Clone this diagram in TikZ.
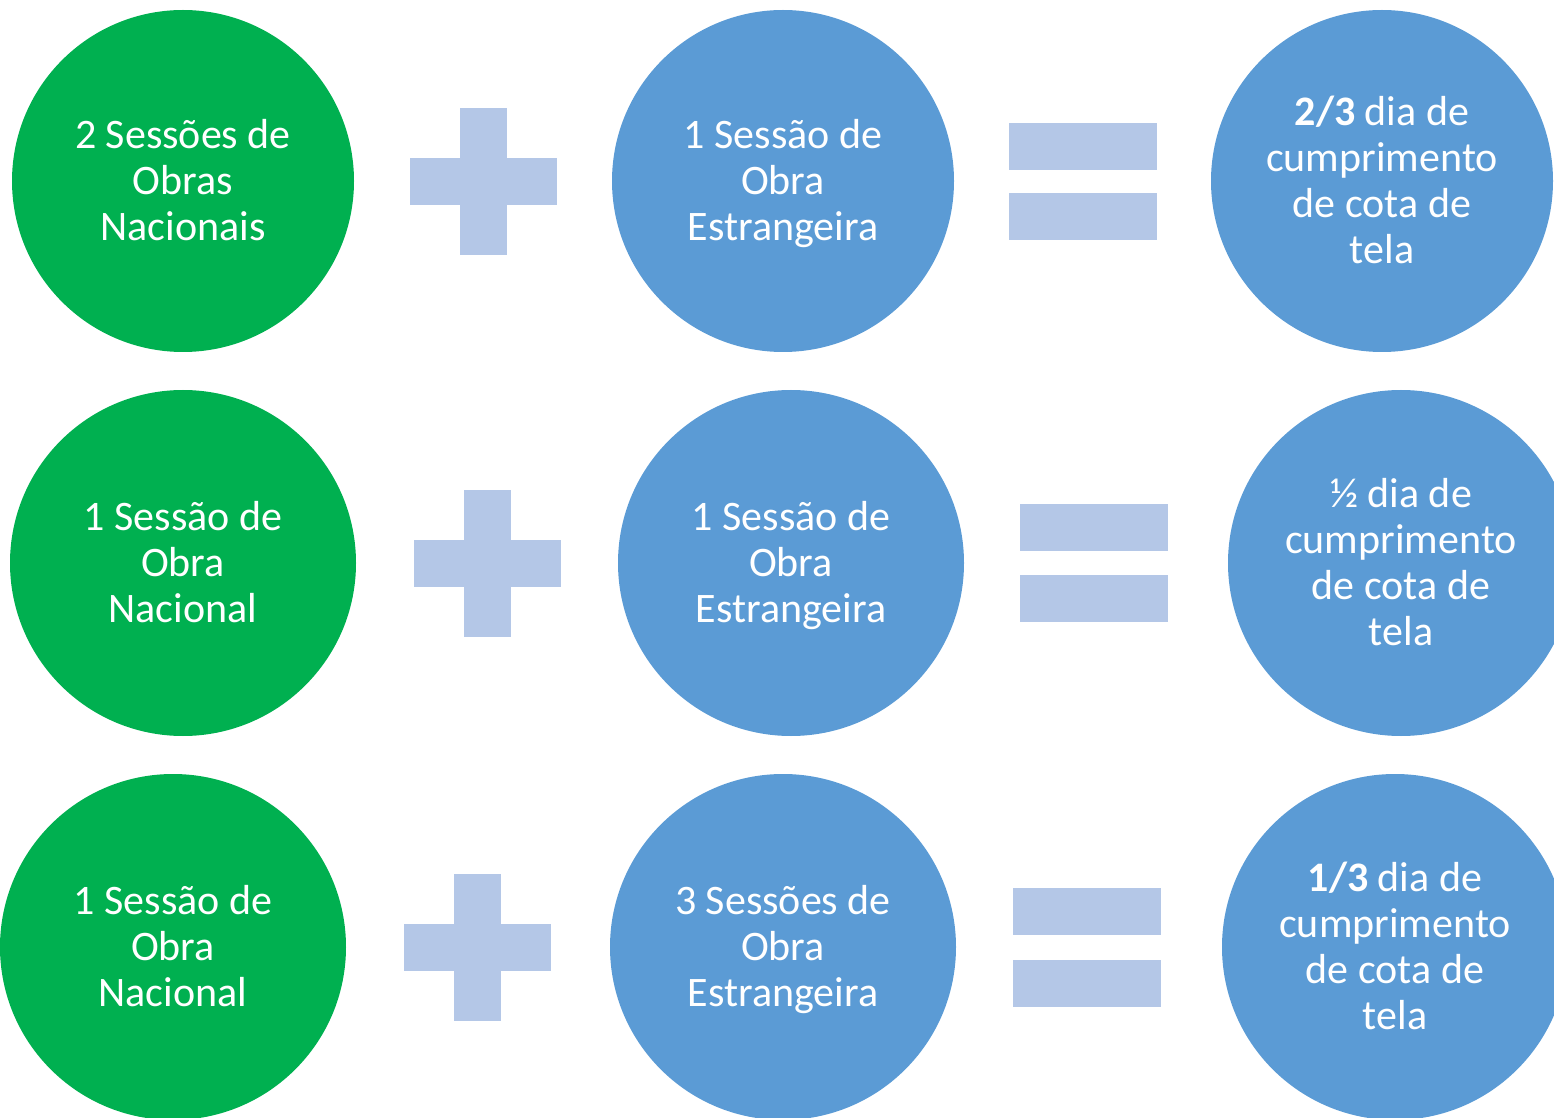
\documentclass[tikz,border=0pt]{standalone}
\usepackage{fontspec}
\setmainfont{Carlito}
\definecolor{nacgreen}{HTML}{00B050}
\definecolor{estblue}{HTML}{5B9BD5}
\definecolor{oplight}{HTML}{B4C7E7}
\newcommand{\ls}{\rule[-4.75pt]{0pt}{23pt}}
\tikzset{
  bubble/.style={circle, inner sep=0pt, text=white, align=center,
    font=\fontsize{21}{23}\selectfont},
  nac/.style={bubble, fill=nacgreen},
  est/.style={bubble, fill=estblue},
  opfill/.style={fill=oplight, draw=none},
}
\newcommand{\plusop}[2]{% center x, center y (px)
  \fill[opfill] (#1-73.5,#2-23.5) rectangle (#1+73.5,#2+23.5);
  \fill[opfill] (#1-23.5,#2-73.5) rectangle (#1+23.5,#2+73.5);
}
\newcommand{\eqop}[3]{% left x, top y of upper bar, top y of lower bar
  \fill[opfill] (#1,#2) rectangle (#1+148,#2+47);
  \fill[opfill] (#1,#3) rectangle (#1+148,#3+47);
}
\begin{document}
\begin{tikzpicture}[x=0.5pt, y=-0.5pt]
\useasboundingbox (0,0) rectangle (1554,1118);
\begin{scope}
\clip (0,0) rectangle (1554,1118);
% row 1
\node[nac, minimum size=171pt] (n1) at (183,181) {\ls 2 Sessões de\\\ls Obras\\\ls Nacionais};
\plusop{483}{181.5}
\node[est, minimum size=171pt] (e1) at (783,181) {\ls 1 Sessão de\\\ls Obra\\\ls Estrangeira};
\eqop{1009}{123}{193}
\node[est, minimum size=171pt] (r1) at (1382,181) {\ls\textbf{2/3} dia de\\\ls cumprimento\\\ls de cota de\\\ls tela};
% row 2
\node[nac, minimum size=173pt] (n2) at (183,563) {\ls 1 Sessão de\\\ls Obra\\\ls Nacional};
\plusop{487}{563}
\node[est, minimum size=173pt] (e2) at (791,563) {\ls 1 Sessão de\\\ls Obra\\\ls Estrangeira};
\eqop{1020}{504}{575}
\node[est, minimum size=173pt] (r2) at (1401,563) {\ls ½ dia de\\\ls cumprimento\\\ls de cota de\\\ls tela};
% row 3
\node[nac, minimum size=173pt] (n3) at (173,947) {\ls 1 Sessão de\\\ls Obra\\\ls Nacional};
\plusop{477.5}{947}
\node[est, minimum size=173pt] (e3) at (783,947) {\ls 3 Sessões de\\\ls Obra\\\ls Estrangeira};
\eqop{1013}{888}{960}
\node[est, minimum size=173pt] (r3) at (1395,947) {\ls\textbf{1/3} dia de\\\ls cumprimento\\\ls de cota de\\\ls tela};
\end{scope}
\end{tikzpicture}
\end{document}
